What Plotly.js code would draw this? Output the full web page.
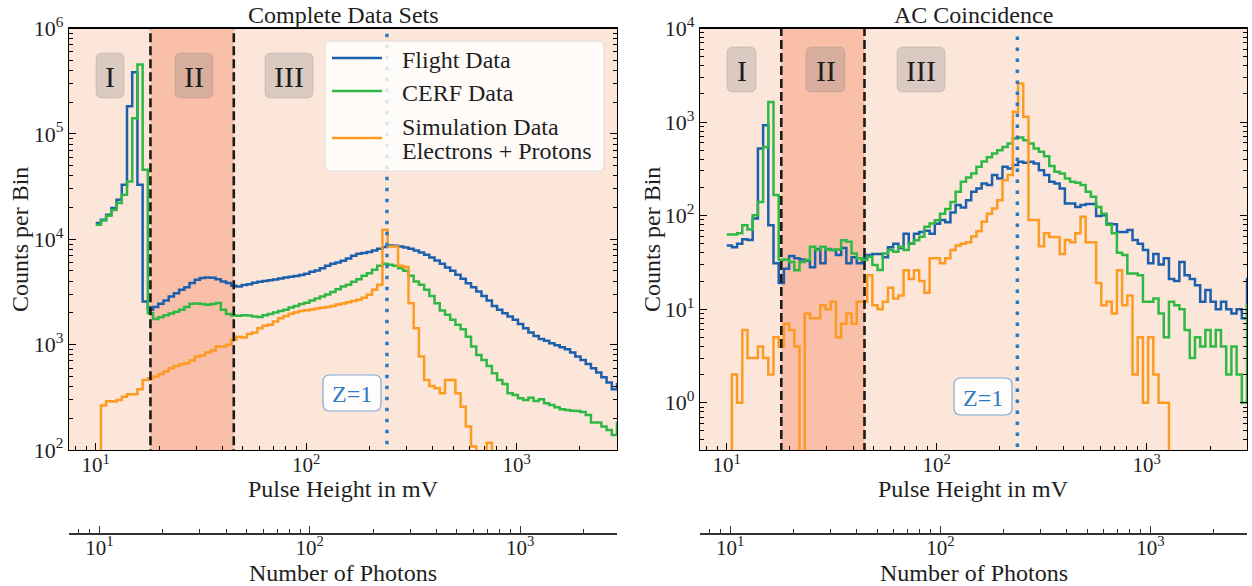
<!DOCTYPE html>
<html>
<head>
<meta charset="utf-8">
<script src="https://cdn.plot.ly/plotly-3.0.1.min.js"></script>
<style>
html,body{margin:0;padding:0;background:#fff;}
#chart{width:1252px;height:586px;}
</style>
</head>
<body>
<div id="chart"></div>
<script>
// ---------------- DATA ----------------
// 100 logarithmic bins from 10 mV to 3000 mV, plus one overflow bin (>3000 mV)
const binLow = 10, binHigh = 3000, nBins = 100;

// Complete data sets (counts per bin)
const flightComplete = [14300,15300,17100,19800,23700,32900,183000,384000,32900,2560,
 2140,2270,2440,2620,2860,3080,3310,3510,3840,4120,
 4280,4340,4310,4180,3970,3840,3620,3570,3670,3750,
 3860,3950,4010,4090,4150,4250,4340,4400,4470,4570,
 4700,4910,5060,5320,5600,5850,6020,6250,6580,6970,
 7280,7390,7550,7830,8120,8430,8740,8680,8550,8360,
 8120,7830,7500,7120,6720,6290,5850,5400,5020,4600,
 4220,3830,3510,3190,2900,2620,2330,2140,1990,1850,
 1720,1570,1430,1300,1210,1130,1090,1030,988,945,
 905,841,771,716,656,597,543,490,436,377, 420];
const cerfComplete = [13700,15100,16700,19000,22100,26500,35400,141000,455000,45700,
 1990,1750,1820,1900,1970,2050,2140,2270,2440,2450,
 2430,2390,2430,2480,2140,1950,1890,1880,1900,1890,
 1850,1830,1900,1950,2020,2080,2140,2250,2330,2430,
 2500,2620,2740,2860,2990,3150,3360,3560,3700,3950,
 4180,4500,4770,5130,5600,5850,5720,5600,5320,5020,
 4500,3980,3700,3310,2900,2475,2110,1920,1720,1540,
 1400,1190,959,799,716,628,535,462,424,345,
 333,310,299,314,292,303,278,268,254,243,
 240,236,235,230,215,182,182,167,155,139, 180];
const simComplete = [0,264,290,288,299,321,338,338,377,462,
 480,497,527,555,598,628,652,666,706,771,
 788,843,879,959,959,995,1110,1190,1170,1260,
 1300,1430,1510,1540,1660,1780,1870,1960,2030,2080,
 2120,2160,2200,2240,2280,2330,2400,2460,2520,2590,
 2660,2780,2970,3310,3700,12300,8550,8550,5600,5440,
 2475,1430,771,462,406,385,345,462,462,345,
 258,167,108,0,0,117,0,0,0,0,
 0,0,0,0,0,0,0,0,0,0,
 0,0,0,0,0,0,0,0,0,0, 0];

// AC coincidence (counts per bin)
const flightAC = [48,46,50,56,55,93,522,927,79,31,
 19,27,37,35,34,33,28,44,31,44,
 43,38,45,31,36,31,35,38,39,39,
 36,46,50,45,64,50,64,67,69,64,
 82,90,85,108,130,122,146,180,195,221,
 212,271,250,333,319,347,376,367,376,361,
 306,271,230,221,195,135,135,124,130,133,
 133,99,101,82,81,67,67,70,55,50,
 43,31,39,30,35,21,20,32,23,21,
 18,12,16,12,10,12,10,9,10,8, 21];
const cerfAC = [63,63,65,79,71,101,140,543,1640,166,
 33.5,34,32,26,32,33.5,46.5,42.8,46.5,43.5,
 42.8,43.5,54.7,52.5,39.4,35,33.5,36.3,29.6,26.2,
 39.4,42.8,41,46.5,42.8,50.4,54.7,59.4,76,82.5,
 89.5,105,118,140,180,230,255,282,333,380,
 420,460,501,543,590,667,684,641,590,522,
 481,432,340,294,282,250,230,224,212,180,
 159,124,105,80,65,40,38,24,24,23,
 12,12,13,9,5,12,11,10,6,3,
 5,4,6,4,6,4,2,4,2,1, 11];
const simAC = [0,2,1,6,3,3,4,3,2,5,
 4,7,6,4,0,9,8,8,11,10,
 12,5,7,9,7,12,12,23,11,10,
 12,17,13,14,26,21,26,20,15,35,
 35,31,35,43,48,50,52,60,68,86,
 105,119,146,239,271,1285,2580,1137,90,90,
 47,65,59,59,39,55,52,65,97,52,
 52,19,11,12,9,26,11,14,2,5,
 1,5,2,1,1,0,0,0,0,0,
 0,0,0,0,0,0,0,0,0,0, 0];

// Region boundaries and reference line (mV)
const regionBounds = [18.2, 45.3];
const z1Position = 242;
const regionLabels = ['I', 'II', 'III'];
const seriesNames = ['Flight Data', 'CERF Data', 'Simulation Data', 'Electrons + Protons'];
const majorTicks = [10, 100, 1000];
const majorTickText = ['10<sup>1</sup>', '10<sup>2</sup>', '10<sup>3</sup>'];
const yTicksComplete = [1e2, 1e3, 1e4, 1e5, 1e6];
const yTickTextComplete = ['10<sup>2</sup>', '10<sup>3</sup>', '10<sup>4</sup>', '10<sup>5</sup>', '10<sup>6</sup>'];
const yTicksAC = [1e0, 1e1, 1e2, 1e3, 1e4];
const yTickTextAC = ['10<sup>0</sup>', '10<sup>1</sup>', '10<sup>2</sup>', '10<sup>3</sup>', '10<sup>4</sup>'];
const photonShift = -0.017; // log10(photons/mV)

// ---------------- HELPERS ----------------
const W = 1252, H = 586;
const FONT = 'Liberation Serif, Times New Roman, serif';
const TXT = '#1e1e1e';
const C_BLUE = '#1c5fad', C_GREEN = '#2fb844', C_ORANGE = '#fd9a22', C_DOT = '#2a7ac2';

const edges = [];
for (let i = 0; i <= nBins + 1; i++) edges.push(binLow * Math.pow(binHigh / binLow, i / nBins));

const FLOOR = 1e-3; // empty bins are drawn below the axis (clipped), like a log-scale step histogram
function stepTrace(vals, color, xa, ya) {
  const n = vals.length;
  const x = edges.slice(0, n + 1);
  const y = vals.map(v => v > 0 ? v : FLOOR);
  y.push(y[n - 1]);
  return {x, y, xaxis: xa, yaxis: ya, type: 'scatter', mode: 'lines',
          line: {shape: 'hv', color, width: 2.5}, hoverinfo: 'skip', showlegend: false};
}
function minorList(decStart, decEnd, lo, hi) {
  const out = [];
  for (let d = decStart; d <= decEnd; d++) for (let m = 2; m <= 9; m++) {
    const v = m * Math.pow(10, d);
    if (v >= lo && v <= hi) out.push(v);
  }
  return out;
}
const px = v => v / W, py = v => 1 - v / H;
function roundRect(x0, y0, x1, y1, r) {
  const rx = r / W, ry = r / H;
  const X0 = px(x0), X1 = px(x1), T = py(y0), B = py(y1);
  return `M ${X0+rx},${T} L ${X1-rx},${T} Q ${X1},${T} ${X1},${T-ry} L ${X1},${B+ry} Q ${X1},${B} ${X1-rx},${B} ` +
         `L ${X0+rx},${B} Q ${X0},${B} ${X0},${B+ry} L ${X0},${T-ry} Q ${X0},${T} ${X0+rx},${T} Z`;
}

// ---------------- TRACES ----------------
const traces = [];
function panel(xa, ya, flight, cerf, sim) {
  traces.push({x: [regionBounds[0], regionBounds[1], regionBounds[1], regionBounds[0], regionBounds[0]],
               y: [1e-4, 1e-4, 1e9, 1e9, 1e-4], xaxis: xa, yaxis: ya, type: 'scatter', mode: 'lines',
               fill: 'toself', fillcolor: '#f9bfa8', line: {width: 0}, hoverinfo: 'skip', showlegend: false});
  traces.push(stepTrace(flight, C_BLUE, xa, ya));
  traces.push(stepTrace(cerf, C_GREEN, xa, ya));
  traces.push(stepTrace(sim, C_ORANGE, xa, ya));
  regionBounds.forEach(b => traces.push({x: [b, b], y: [1e-4, 1e9], xaxis: xa, yaxis: ya, type: 'scatter',
      mode: 'lines', line: {color: '#1a1a1a', width: 2.6, dash: '9px,4px'}, hoverinfo: 'skip', showlegend: false}));
  traces.push({x: [z1Position, z1Position], y: [1e-4, 1e9], xaxis: xa, yaxis: ya, type: 'scatter', mode: 'lines',
      line: {color: C_DOT, width: 3.5, dash: '3.5px,7.5px'}, hoverinfo: 'skip', showlegend: false});
}
panel('x', 'y', flightComplete, cerfComplete, simComplete);
panel('x2', 'y2', flightAC, cerfAC, simAC);
// carriers for the photon axes
traces.push({x: [10, 1000], y: [null, null], xaxis: 'x3', yaxis: 'y', type: 'scatter', mode: 'lines', hoverinfo: 'skip', showlegend: false});
traces.push({x: [10, 1000], y: [null, null], xaxis: 'x4', yaxis: 'y2', type: 'scatter', mode: 'lines', hoverinfo: 'skip', showlegend: false});

// ---------------- AXES ----------------
const xRange = [0.873, Math.log10(binHigh)];
const minorX = minorList(0, 3, 7.4, 3000);
const yDomain = [py(450), py(28.5)];
function xAxis(domain, anchor) {
  return {domain, anchor, type: 'log', range: xRange, showline: true, linecolor: '#000', linewidth: 1.2,
    mirror: true, ticks: 'inside', ticklen: 7, tickwidth: 1, tickcolor: '#000',
    tickmode: 'array', tickvals: majorTicks, ticktext: majorTickText, ticklabelstandoff: -4,
    tickfont: {family: FONT, size: 21, color: TXT},
    minor: {tickmode: 'array', tickvals: minorX, ticks: 'inside', ticklen: 4, tickwidth: 1, tickcolor: '#000', showgrid: false},
    showgrid: false, zeroline: false, fixedrange: true};
}
function yAxis(anchor, range, vals, text, minorVals) {
  return {domain: yDomain, anchor, type: 'log', range, showline: true, linecolor: '#000', linewidth: 1.2,
    mirror: 'ticks', ticks: 'inside', ticklen: 7, tickwidth: 1, tickcolor: '#000',
    tickmode: 'array', tickvals: vals, ticktext: text,
    tickfont: {family: FONT, size: 22, color: TXT},
    minor: {tickmode: 'array', tickvals: minorVals, ticks: 'inside', ticklen: 4, tickwidth: 1, tickcolor: '#000', showgrid: false},
    showgrid: false, zeroline: false, fixedrange: true};
}
function photonAxis(over) {
  return {overlaying: over, anchor: 'free', position: py(533), side: 'bottom', type: 'log',
    range: [xRange[0] + photonShift, xRange[1] + photonShift],
    showline: true, linecolor: '#333', linewidth: 1.5, ticks: 'inside', ticklen: 7, tickwidth: 1, tickcolor: '#333',
    tickmode: 'array', tickvals: majorTicks, ticktext: majorTickText, ticklabelstandoff: -5,
    tickfont: {family: FONT, size: 21, color: TXT},
    minor: {tickmode: 'array', tickvals: minorList(0, 3, 7.2, 2900), ticks: 'inside', ticklen: 4, tickwidth: 1, tickcolor: '#333', showgrid: false},
    showgrid: false, zeroline: false, fixedrange: true};
}

// ---------------- ANNOTATIONS & SHAPES ----------------
const ann = [];
const shapes = [];
function text(t, x, y, size, opts) {
  ann.push(Object.assign({text: t, x: px(x), y: py(y), xref: 'paper', yref: 'paper', showarrow: false,
    xanchor: 'center', yanchor: 'middle', font: {family: FONT, size, color: TXT}}, opts || {}));
}
const panels = [
  {cx: 343, ylab: 20, title: 'Complete Data Sets', boxes: [[96,53,124,98],[175,53,213,98],[265,53,313,98]], z: [323,375,381,411]},
  {cx: 973.5, ylab: 652, title: 'AC Coincidence', boxes: [[727,47,756,92],[806,47,845,92],[897,47,945,92]], z: [954,378,1012,415]}
];
panels.forEach(p => {
  text(p.title, p.cx, 15, 24);
  text('Pulse Height in mV', p.cx, 489, 24);
  text('Number of Photons', p.cx, 573, 24);
  text('Counts per Bin', p.ylab, 240, 24, {textangle: -90});
  p.boxes.forEach((b, i) => {
    shapes.push({type: 'path', path: roundRect(b[0], b[1], b[2], b[3], 6), xref: 'paper', yref: 'paper',
      fillcolor: 'rgba(128,128,128,0.28)', line: {color: 'rgba(128,128,128,0.25)', width: 1}, layer: 'above'});
    text(regionLabels[i], (b[0] + b[2]) / 2, (b[1] + b[3]) / 2 + 1, 30);
  });
  const z = p.z;
  shapes.push({type: 'path', path: roundRect(z[0], z[1], z[2], z[3], 7), xref: 'paper', yref: 'paper',
    fillcolor: 'rgba(255,255,255,0.9)', line: {color: '#7fa8d4', width: 1.2}, layer: 'above'});
  text('Z=1', (z[0] + z[2]) / 2, (z[1] + z[3]) / 2 + 1, 24, {font: {family: FONT, size: 24, color: C_DOT}});
});

// legend (left panel)
shapes.push({type: 'path', path: roundRect(325, 41, 604, 171, 6), xref: 'paper', yref: 'paper',
  fillcolor: 'rgba(255,255,255,0.82)', line: {color: '#dcdcdc', width: 1}, layer: 'above'});
[[C_BLUE, 58], [C_GREEN, 91], [C_ORANGE, 138]].forEach(([c, y]) => {
  shapes.push({type: 'line', x0: px(332), x1: px(382), y0: py(y), y1: py(y), xref: 'paper', yref: 'paper',
    line: {color: c, width: 2.6}, layer: 'above'});
});
text(seriesNames[0], 400, 60, 24, {xanchor: 'left'});
text(seriesNames[1], 400, 93, 24, {xanchor: 'left'});
text(seriesNames[2], 400, 127, 24, {xanchor: 'left'});
text(seriesNames[3], 400, 151, 24, {xanchor: 'left'});

const layout = {
  width: W, height: H, margin: {l: 0, r: 0, t: 0, b: 0},
  paper_bgcolor: '#ffffff', plot_bgcolor: '#fce6da', showlegend: false,
  xaxis: xAxis([px(69), px(617)], 'y'),
  yaxis: yAxis('x', [2, 6], yTicksComplete, yTickTextComplete, minorList(2, 5, 100, 1e6)),
  xaxis2: xAxis([px(700), px(1247)], 'y2'),
  yaxis2: yAxis('x2', [-0.505, 4], yTicksAC, yTickTextAC, minorList(-1, 3, 0.3, 1e4)),
  xaxis3: photonAxis('x'),
  xaxis4: photonAxis('x2'),
  annotations: ann, shapes: shapes
};
Plotly.newPlot('chart', traces, layout, {staticPlot: true, displayModeBar: false});
</script>
</body>
</html>
